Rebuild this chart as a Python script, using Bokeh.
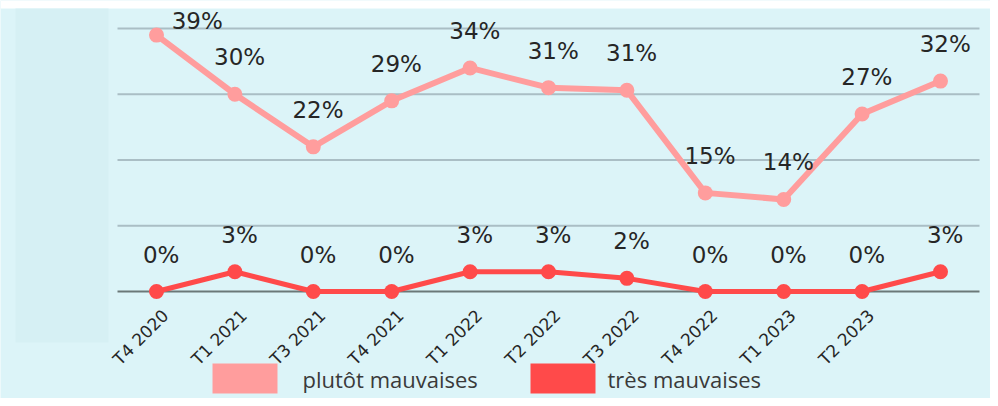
import math
from bokeh.plotting import figure
from bokeh.models import ColumnDataSource, Range1d
from bokeh.core.properties import value
from bokeh.embed import file_html
from bokeh.resources import INLINE

# ---- data ----
periods = ["T4 2020", "T1 2021", "T3 2021", "T4 2021", "T1 2022", "T2 2022",
           "T3 2022", "T4 2022", "T1 2023", "T2 2023", ""]
plutot = [39, 30, 22, 29, 34, 31, 30.6, 15, 14, 27, 32]
tres = [0, 3, 0, 0, 3, 3, 2, 0, 0, 0, 3]
grid_values = [10, 20, 30, 40]
legend_names = ["plutôt mauvaises", "très mauvaises"]

PINK = "#ff9d9d"
RED = "#ff4a4a"
BG = "#dcf4f8"
PANEL = "#d6f0f4"
GRID = "#aabec5"
BASE = "#6b7878"
TXT = "#262626"

# ---- canvas-pixel <-> data mapping ----
W, H = 990, 398
X0PX, DXPX = 156.0, 78.4     # x pixel of first category, spacing
Y0PX, DYPX = 291.0, 6.575    # y pixel of value 0, pixels per unit


def px2x(px):
    return (px - X0PX) / DXPX


def px2y(py):
    return (Y0PX - py) / DYPX


p = figure(width=W, height=H, output_backend="svg", toolbar_location=None,
           x_axis_location=None, y_axis_location=None, min_border=0,
           x_range=Range1d(px2x(0), px2x(W)),
           y_range=Range1d(px2y(H), px2y(0)))
p.outline_line_color = None
p.background_fill_color = BG
p.border_fill_color = BG
p.xgrid.visible = False
p.ygrid.visible = False

# white top strip and left shaded panel
p.quad(left=px2x(0), right=px2x(W), top=px2y(0), bottom=px2y(8),
       fill_color="white", line_color=None)
p.quad(left=px2x(15), right=px2x(108), top=px2y(8), bottom=px2y(342),
       fill_color=PANEL, line_color=None)

# grid lines
n = len(periods)
gx0, gx1 = px2x(117), px2x(979)
p.segment(x0=[gx0] * len(grid_values), x1=[gx1] * len(grid_values),
          y0=grid_values, y1=grid_values, line_color=GRID, line_width=2)
p.segment(x0=[gx0], x1=[gx1], y0=[0], y1=[0], line_color=BASE, line_width=2)

xs = list(range(n))

# series
src_p = ColumnDataSource(dict(x=xs, y=plutot))
src_t = ColumnDataSource(dict(x=xs, y=tres))
p.line("x", "y", source=src_p, line_color=PINK, line_width=6, line_join="round")
p.scatter("x", "y", source=src_p, size=15, fill_color=PINK, line_color=None)
p.line("x", "y", source=src_t, line_color=RED, line_width=5, line_join="round")
p.scatter("x", "y", source=src_t, size=15, fill_color=RED, line_color=None)

# data labels
dy = 37 / DYPX
ymax_lab = px2y(20)


def label_pos(vals):
    lx, ly = [], []
    for i, v in enumerate(vals):
        y = v + dy
        x = i + 0.06
        if y > ymax_lab:
            y = ymax_lab
            x = i + 0.52
        lx.append(x)
        ly.append(y)
    return lx, ly


for vals in (plutot, tres):
    lx, ly = label_pos(vals)
    p.text(x=lx, y=ly, text=[f"{v:.0f}%" for v in vals],
           text_font=value("DejaVu Sans"), text_font_size="23px",
           text_color=TXT, text_align="center", text_baseline="middle")

# category labels (rotated)
p.text(x=[i + 9 / DXPX for i in xs], y=[px2y(312)] * n, text=periods,
       angle=math.pi / 4, text_font=value("DejaVu Sans"),
       text_font_size="17px", text_color=TXT,
       text_align="right", text_baseline="middle")

# legend
leg_rect_x = [px2x(244.5), px2x(562.5)]
leg_text_x = [px2x(302), px2x(607)]
leg_y = px2y(378)
p.rect(x=leg_rect_x, y=[leg_y] * 2, width=65, height=30,
       width_units="screen", height_units="screen",
       fill_color=[PINK, RED], line_color=None)
p.text(x=leg_text_x, y=[leg_y] * 2, text=legend_names,
       text_font=value("Open Sans"), text_font_size="22px",
       text_color="#3a3a3a", text_align="left", text_baseline="middle")

open("out.html", "w").write(file_html(p, INLINE))
